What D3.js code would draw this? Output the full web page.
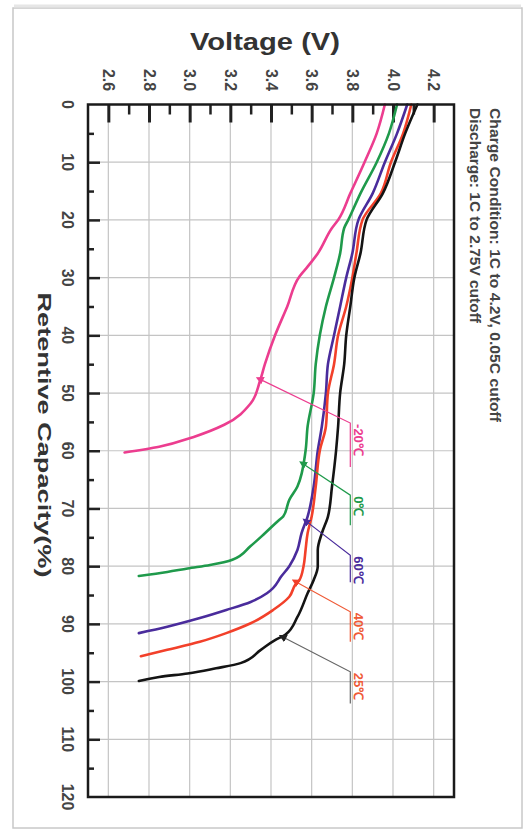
<!DOCTYPE html>
<html><head><meta charset="utf-8">
<script src="https://cdn.jsdelivr.net/npm/d3@7"></script>
<style>
html,body{margin:0;padding:0;background:#fff;}
svg{display:block;font-family:"Liberation Sans",Arial,sans-serif;}
</style></head>
<body>
<svg id="chart" width="526" height="831"></svg>
<script>
// ---- data (capacity %, voltage V) ----
const voltageTicks = [2.6, 2.8, 3.0, 3.2, 3.4, 3.6, 3.8, 4.0, 4.2];
const voltageMinor = [2.7, 2.9, 3.1, 3.3, 3.5, 3.7, 3.9, 4.1];
const capacityTicks = [0, 10, 20, 30, 40, 50, 60, 70, 80, 90, 100, 110, 120];
const capacityMinor = [5, 15, 25, 35, 45, 55, 65, 75, 85, 95, 105, 115];

const capM20 = [0, 5, 10, 15.4, 20, 21.4, 25.8, 28.1, 29.8, 35, 40, 45, 48, 51.8, 55.5, 57.6, 59.3, 60.3];
const voltM20 = [3.96, 3.92, 3.86, 3.79, 3.73, 3.70, 3.63, 3.58, 3.54, 3.48, 3.42, 3.37, 3.345, 3.30, 3.17, 3.02, 2.85, 2.68];

const cap0 = [0, 5, 10, 15.4, 20, 21.4, 25.8, 30, 35, 40, 45, 50, 55.8, 60, 66.2, 68.5, 71.4, 72, 74.3, 76.5, 78.9, 79.8, 80.4, 81.0, 81.7];
const volt0 = [4.02, 3.98, 3.92, 3.84, 3.78, 3.76, 3.74, 3.71, 3.67, 3.64, 3.62, 3.61, 3.58, 3.57, 3.53, 3.49, 3.46, 3.44, 3.37, 3.30, 3.21, 3.10, 2.99, 2.89, 2.75];

const cap60 = [0, 5, 10, 15.4, 20, 25.8, 30, 35, 40, 45, 50, 55.8, 60, 66.2, 71.4, 74.3, 77.2, 80, 81.8, 83.8, 84.7, 86.2, 87.6, 89.0, 90.5, 91.6];
const volt60 = [4.07, 4.02, 3.96, 3.90, 3.83, 3.80, 3.77, 3.74, 3.71, 3.68, 3.67, 3.65, 3.63, 3.61, 3.58, 3.55, 3.53, 3.49, 3.45, 3.41, 3.38, 3.30, 3.18, 3.05, 2.89, 2.75];

const cap40 = [0, 5, 10, 15.4, 20, 25.8, 30, 35, 40, 45, 50, 55.8, 60, 66.2, 71.4, 74.3, 77.2, 80, 82.4, 83.2, 85.3, 87.6, 89.9, 91.6, 93.1, 94.5, 95.6];
const volt40 = [4.09, 4.05, 3.99, 3.94, 3.85, 3.82, 3.80, 3.77, 3.73, 3.71, 3.68, 3.67, 3.64, 3.62, 3.60, 3.58, 3.57, 3.56, 3.54, 3.52, 3.49, 3.41, 3.30, 3.18, 3.05, 2.89, 2.76];

const cap25 = [0, 5, 10, 15.4, 20, 25.8, 30, 35, 40, 45, 50, 55.8, 60, 66.2, 71.4, 74.3, 77.2, 80, 82.4, 84.7, 88.8, 91.9, 92.8, 94.5, 96.8, 97.7, 98.6, 99.2, 99.9];
const volt25 = [4.12, 4.06, 4.01, 3.95, 3.87, 3.84, 3.81, 3.79, 3.77, 3.76, 3.74, 3.73, 3.72, 3.70, 3.68, 3.65, 3.63, 3.63, 3.61, 3.58, 3.53, 3.47, 3.42, 3.35, 3.25, 3.13, 2.99, 2.85, 2.75];

const seriesNames = ["-20℃", "0℃", "60℃", "40℃", "25℃"];
const seriesColors = ["#ec3d8f", "#1f9a4b", "#4a2c9c", "#f2402a", "#141414"];
const labelColors = ["#ec3d8f", "#1f9a4b", "#4a2c9c", "#ef5a36", "#ef5a36"];
const leaderColors = ["#ec3d8f", "#1f9a4b", "#4a2c9c", "#ef5a36", "#666666"];
// annotation: arrow tip (V, cap), elbow cap, end cap
const annTipV = [3.357, 3.568, 3.583, 3.533, 3.47];
const annTipCap = [47.8, 62.5, 72.5, 82.9, 92.5];
const annElbowV = [3.79, 3.79, 3.79, 3.79, 3.79];
const annElbowCap = [55.2, 67.7, 78.1, 87.9, 98.3];
const annEndCap = [62.8, 72.9, 82.8, 93.1, 103.8];

const seriesCap = [capM20, cap0, cap60, cap40, cap25];
const seriesVolt = [voltM20, volt0, volt60, volt40, volt25];

// ---- layout ----
const svg = d3.select("#chart");
const L = 88, R = 454, T = 104.5, B = 797;
const x = d3.scaleLinear().domain([2.5, 4.3]).range([L, R]);
const y = d3.scaleLinear().domain([0, 120]).range([T, B]);

// outer border
svg.append("rect").attr("x", 13).attr("y", 8).attr("width", 509).attr("height", 820)
  .attr("fill", "#fff").attr("stroke", "#c8c8c8").attr("stroke-width", 1.5);
svg.append("line").attr("x1", 14).attr("x2", 521).attr("y1", 6).attr("y2", 6)
  .attr("stroke", "#e6e6e6").attr("stroke-width", 3);

const defs = svg.append("defs");
defs.append("clipPath").attr("id", "clip").append("rect")
  .attr("x", L).attr("y", T - 2).attr("width", R - L).attr("height", B - T + 2);

// gridlines
const grid = svg.append("g");
grid.selectAll("line.v").data(voltageTicks).join("line")
  .attr("x1", d => x(d)).attr("x2", d => x(d)).attr("y1", T).attr("y2", B)
  .attr("stroke", "#c4c4c4").attr("stroke-width", 1.2);
grid.selectAll("line.h").data(capacityTicks.filter(d => d > 0 && d < 120)).join("line")
  .attr("x1", L).attr("x2", R).attr("y1", d => y(d)).attr("y2", d => y(d))
  .attr("stroke", "#c4c4c4").attr("stroke-width", 1.2);

// ticks (inward) via d3 axes
const topMajor = svg.append("g").attr("transform", `translate(0,${T})`)
  .call(d3.axisTop(x).tickValues(voltageTicks).tickSize(-18).tickFormat(""));
const topMinor = svg.append("g").attr("transform", `translate(0,${T})`)
  .call(d3.axisTop(x).tickValues(voltageMinor).tickSize(-10).tickFormat(""));
const leftMajor = svg.append("g").attr("transform", `translate(${L},0)`)
  .call(d3.axisLeft(y).tickValues(capacityTicks.filter(d => d > 0 && d < 120)).tickSize(-12).tickFormat(""));
const leftMinor = svg.append("g").attr("transform", `translate(${L},0)`)
  .call(d3.axisLeft(y).tickValues(capacityMinor).tickSize(-6).tickFormat(""));
[topMajor, topMinor, leftMajor, leftMinor].forEach(g => {
  g.select(".domain").remove();
  g.selectAll("line").attr("stroke", "#222");
});
topMajor.selectAll("line").attr("stroke-width", 3);
topMinor.selectAll("line").attr("stroke-width", 2.5);
leftMajor.selectAll("line").attr("stroke-width", 2.5);
leftMinor.selectAll("line").attr("stroke-width", 2.5);

// tick labels (rotated)
svg.append("g").selectAll("text").data(voltageTicks).join("text")
  .attr("transform", d => `translate(${x(d)},80) rotate(90)`)
  .attr("text-anchor", "middle").attr("dominant-baseline", "central")
  .attr("font-size", 16).attr("font-weight", "bold").attr("fill", "#444")
  .text(d => d.toFixed(1));
svg.append("g").selectAll("text").data(capacityTicks).join("text")
  .attr("transform", d => `translate(67,${y(d)}) rotate(90)`)
  .attr("text-anchor", "middle").attr("dominant-baseline", "central")
  .attr("font-size", 16).attr("font-weight", "bold").attr("fill", "#444")
  .text(d => d);

// titles
svg.append("text").attr("x", 265).attr("y", 50).attr("text-anchor", "middle")
  .attr("font-size", 23).attr("font-weight", "bold").attr("fill", "#333")
  .attr("textLength", 150).attr("lengthAdjust", "spacingAndGlyphs")
  .text("Voltage (V)");
svg.append("text").attr("transform", "translate(44,435) rotate(90)")
  .attr("text-anchor", "middle").attr("dominant-baseline", "central")
  .attr("font-size", 19).attr("font-weight", "bold").attr("fill", "#333")
  .attr("textLength", 285).attr("lengthAdjust", "spacingAndGlyphs")
  .text("Retentive Capacity(%)");
svg.append("text").attr("transform", "translate(495,108) rotate(90)")
  .attr("dominant-baseline", "central")
  .attr("font-size", 14).attr("font-weight", "bold").attr("fill", "#444")
  .attr("textLength", 314).attr("lengthAdjust", "spacingAndGlyphs")
  .text("Charge Condition: 1C to 4.2V, 0.05C cutoff");
svg.append("text").attr("transform", "translate(475,108) rotate(90)")
  .attr("dominant-baseline", "central")
  .attr("font-size", 14).attr("font-weight", "bold").attr("fill", "#444")
  .attr("textLength", 215).attr("lengthAdjust", "spacingAndGlyphs")
  .text("Discharge: 1C to 2.75V cutoff");

// curves
const line = d3.line().x(d => x(d[1])).y(d => y(d[0])).curve(d3.curveMonotoneY);
const curves = svg.append("g").attr("clip-path", "url(#clip)");
seriesCap.forEach((caps, i) => {
  const pts = caps.map((c, k) => [c, seriesVolt[i][k]]);
  curves.append("path").datum(pts).attr("d", line)
    .attr("fill", "none").attr("stroke", seriesColors[i]).attr("stroke-width", 2.6)
    .attr("stroke-linejoin", "round").attr("stroke-linecap", "round");
});

// annotations
seriesNames.forEach((name, i) => {
  defs.append("marker").attr("id", "arr" + i).attr("viewBox", "0 0 10 10")
    .attr("refX", 1).attr("refY", 5).attr("markerWidth", 8).attr("markerHeight", 8)
    .attr("markerUnits", "userSpaceOnUse").attr("orient", "auto-start-reverse")
    .append("path").attr("d", "M0,0 L10,5 L0,10 z").attr("fill", leaderColors[i] === "#666666" ? "#222" : seriesColors[i]);
  const ex = x(annElbowV[i]);
  svg.append("path")
    .attr("d", `M${x(annTipV[i])},${y(annTipCap[i])} L${ex},${y(annElbowCap[i])} L${ex},${y(annEndCap[i])}`)
    .attr("fill", "none").attr("stroke", leaderColors[i]).attr("stroke-width", 1.2)
    .attr("marker-start", `url(#arr${i})`);
  svg.append("text")
    .attr("transform", `translate(${ex + 8},${y(annElbowCap[i]) + 1}) rotate(90)`)
    .attr("dominant-baseline", "central")
    .attr("font-size", 13).attr("font-weight", "bold").attr("fill", labelColors[i])
    .text(name);
});

// frame
svg.append("rect").attr("x", L).attr("y", T).attr("width", R - L).attr("height", B - T)
  .attr("fill", "none").attr("stroke", "#1a1a1a").attr("stroke-width", 2.5);
</script>
</body></html>
